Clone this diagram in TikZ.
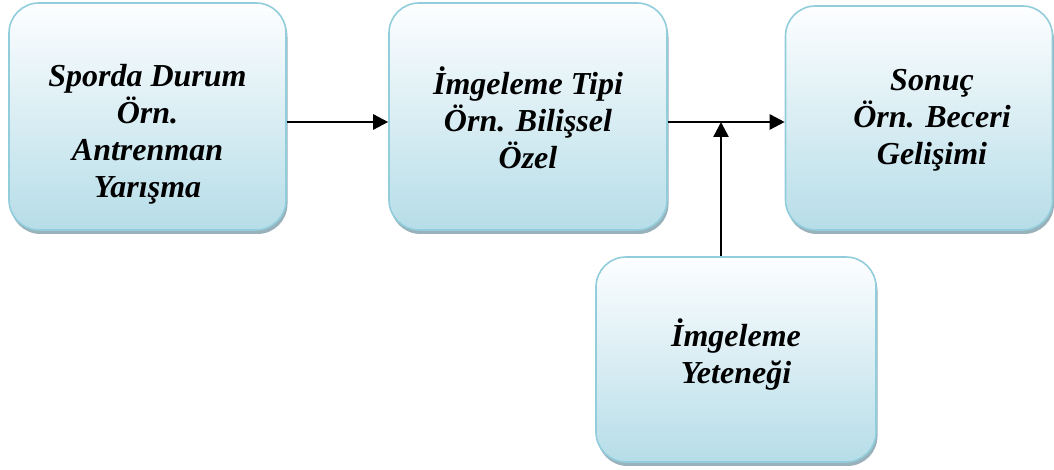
\documentclass[tikz,border=0pt]{standalone}
\usepackage{fontspec}
\setmainfont{Liberation Serif}
\usepackage{tikz}
\usetikzlibrary{arrows.meta, shadows}

\definecolor{boxline}{HTML}{92CDDC}
\definecolor{boxbot}{HTML}{B6DDE8}
\definecolor{boxtop}{HTML}{FDFEFF}
\definecolor{boxshade}{HTML}{8DA9B3}

\tikzset{
  stagebox/.style={rectangle, rounded corners=30pt, draw=boxline, line width=1.6pt,
    top color=boxtop, bottom color=boxbot,
    drop shadow={shadow xshift=1.5pt, shadow yshift=-4pt, fill=boxshade, opacity=0.9}},
  stagetext/.style={align=center, font=\fontsize{32}{37}\selectfont\bfseries\itshape},
  flow/.style={line width=2.5pt, -{Triangle[length=15pt,width=15pt]}}
}

\begin{document}
\begin{tikzpicture}[x=1pt,y=1pt]
\useasboundingbox (0,0) rectangle (1054,470);
% boxes
\node[stagebox, minimum width=277pt, minimum height=227pt] (durum) at (147.5,353.5) {};
\node[stagebox, minimum width=278pt, minimum height=227pt] (tip) at (528,353.5) {};
\node[stagebox, minimum width=267pt, minimum height=224pt] (sonuc) at (919,352) {};
\node[stagebox, minimum width=280pt, minimum height=205pt] (yetenek) at (736,110.5) {};
% texts
\node[stagetext] (durumtxt) at ([yshift=-18pt]durum.center) {Sporda Durum\\Örn.\\Antrenman\\Yarışma};
\node[stagetext] (tiptxt) at ([yshift=-1pt]tip.center) {İmgeleme Tipi\\Örn. Bilişsel\\Özel};
\node[stagetext] (sonuctxt) at ([xshift=13pt,yshift=-2pt]sonuc.center) {Sonuç\\Örn. Beceri\\Gelişimi};
\node[stagetext] (yetenektxt) at ([yshift=5pt]yetenek.center) {İmgeleme\\Yeteneği};
% arrows
\coordinate (join) at (721,348);
\draw[flow] ([yshift=-5.5pt]durum.east) -- ([yshift=-5.5pt]tip.west);
\draw[flow] ([yshift=-5.5pt]tip.east) -- (sonuc.west |- join);
\draw[flow] (yetenek.north -| join) -- (join);
\end{tikzpicture}
\end{document}
